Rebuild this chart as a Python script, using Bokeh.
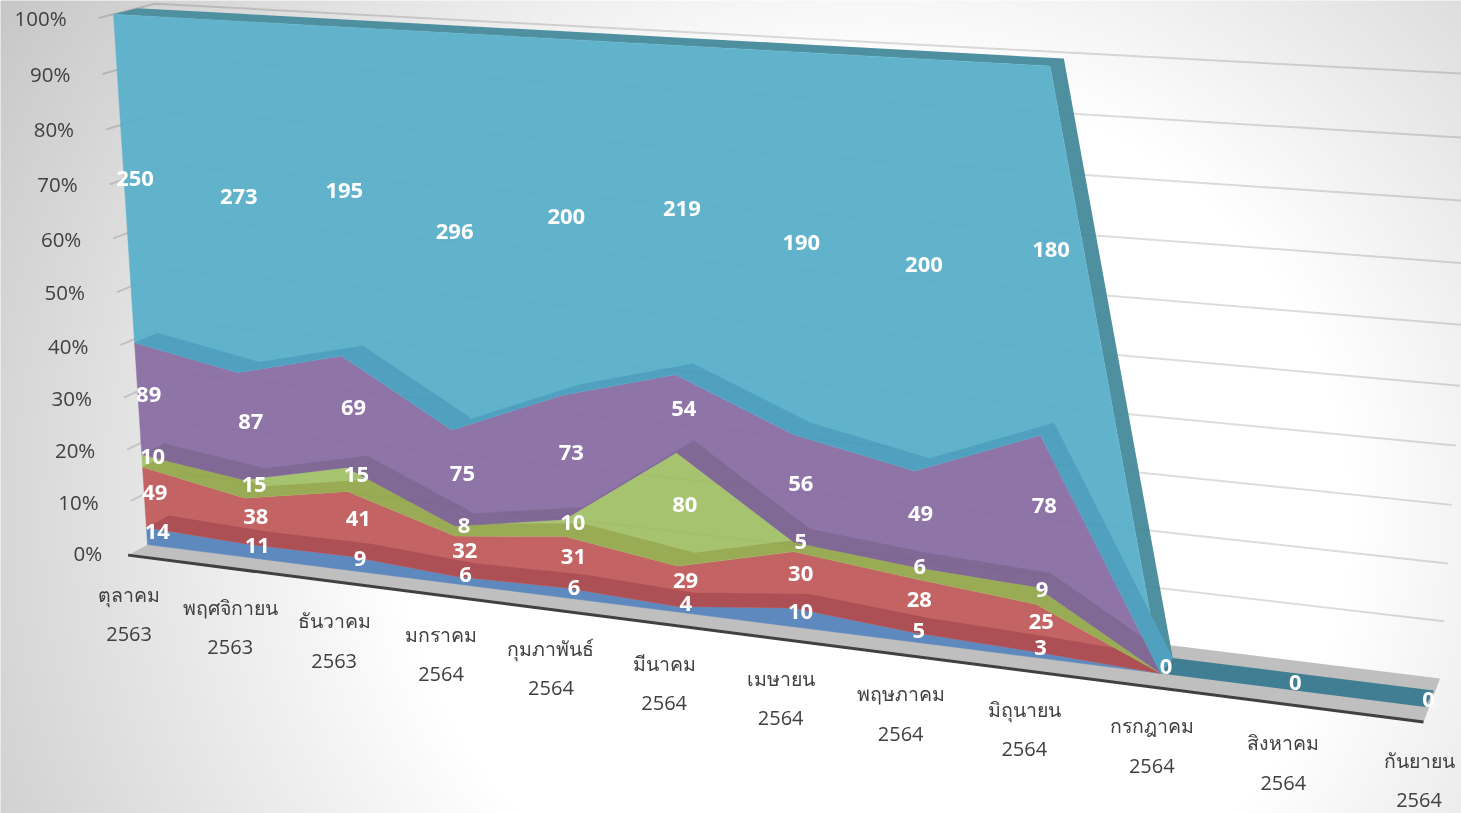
import numpy as np
from bokeh.plotting import figure
from bokeh.embed import file_html
from bokeh.resources import INLINE
from bokeh.core.properties import value

months = ["ตุลาคม", "พฤศจิกายน", "ธันวาคม", "มกราคม", "กุมภาพันธ์", "มีนาคม",
          "เมษายน", "พฤษภาคม", "มิถุนายน", "กรกฎาคม", "สิงหาคม", "กันยายน"]
years = ["2563", "2563", "2563", "2564", "2564", "2564", "2564", "2564", "2564", "2564", "2564", "2564"]
blue = [14, 11, 9, 6, 6, 4, 10, 5, 3, 0, 0, 0]
red = [49, 38, 41, 32, 31, 29, 30, 28, 25, 0, 0, 0]
green = [10, 15, 15, 8, 10, 80, 5, 6, 9, 0, 0, 0]
purple = [89, 87, 69, 75, 73, 54, 56, 49, 78, 0, 0, 0]
teal = [250, 273, 195, 296, 200, 219, 190, 200, 180, 0, 0, 0]
y_ticks = [0, 10, 20, 30, 40, 50, 60, 70, 80, 90, 100]

series = [blue, red, green, purple, teal]
face_colors = ["#5E89BF", "#C46363", "#A6C36F", "#8F74A8", "#61B3CC"]
side_colors = ["#AD5056", "#9AAB55", "#806A95", "#4FA1BF", "#4F90A0"]

# ---- perspective scale: (category, percent, depth) -> screen, fitted on the picture's box corners
CAL = [
    (0, 100, 0, 113, 14), (8, 100, 0, 1050, 65), (0, 0, 0, 147, 544), (9, 0, 0, 1162, 674),
    (11, 0, 0, 1423, 707), (0, 39.3, 0, 134, 342), (0, 3.4, 0, 146, 527), (5, 29.3, 0, 676, 452),
    (5, 8.5, 0, 677, 565), (0, 100, 1, 137, 8), (8, 100, 1, 1063, 58), (0, 39.3, 1, 157, 333),
    (0, 17.7, 1, 164, 443), (0, 3.4, 1, 168, 515), (5, 29.3, 1, 693, 440), (5, 8.5, 1, 695, 552),
    (9, 0, 1, 1172, 657), (11, 0, 1, 1434, 690),
]
A, b = [], []
for i, v, z, sx, sy in CAL:
    w = v / 100
    A.append([i, w, z, 1, 0, 0, 0, 0, -sx * i, -sx * w, -sx * z])
    b.append(sx)
    A.append([0, 0, 0, 0, i, w, z, 1, -sy * i, -sy * w, -sy * z])
    b.append(sy)
P = np.append(np.linalg.lstsq(np.array(A, float), np.array(b, float), rcond=None)[0], 1.0).reshape(3, 4)


def proj(i, v, z):
    i, v, z = np.broadcast_arrays(np.asarray(i, float), np.asarray(v, float) / 100, np.asarray(z, float))
    h = np.stack([i, v, z, np.ones_like(i)])
    q = P @ h.reshape(4, -1)
    return (q[0] / q[2]).reshape(i.shape), (q[1] / q[2]).reshape(i.shape)


Z_FLOOR_FRONT = -0.85
Z_GRID_FRONT = -0.6
Z_FLOOR_BACK = 1.75

W, H = 1461, 813
p = figure(width=W, height=H, x_range=(0, W), y_range=(H, 0), output_backend="svg",
           toolbar_location=None, min_border=0, outline_line_color=None)
p.axis.visible = False
p.grid.visible = False
p.styles = {"position": "fixed", "left": "0px", "top": "0px"}

# background
gx, gy = np.meshgrid(np.linspace(-6, W + 6, 370), np.linspace(-6, H + 6, 208))
d = np.sqrt(((gx - 875) / 479) ** 2 + ((gy - 520) / 450) ** 2)
g = np.clip(255 - 48 * np.maximum(d - 1, 0), 0, 255).astype(np.uint32)
img = (255 << 24) | (g << 16) | (g << 8) | g
p.image_rgba(image=[img.astype(np.uint32)], x=-6, y=-6, dw=W + 12, dh=H + 12)

cats = np.arange(12)

# floor
fx1, fy1 = proj(cats, 0, Z_FLOOR_FRONT)
ex1, ey1 = proj([0, 11.04], 0, Z_FLOOR_FRONT)
ex2, ey2 = proj([0, 11.0], 0, Z_FLOOR_BACK)
p.patch(np.r_[ex1, ex2[::-1]], np.r_[ey1, ey2[::-1]], fill_color="#BFBFBF", line_color=None)
p.line(ex1, ey1, line_color="#404040", line_width=3)

# gridlines
def grid_path(v):
    x0, y0 = proj(0, v, Z_GRID_FRONT)
    x1, y1 = proj(0, v, Z_FLOOR_BACK)
    x2, y2 = proj(11, v, Z_FLOOR_BACK)
    return [float(x0), float(x1), float(x2)], [float(y0), float(y1), float(y2)]

paths = [grid_path(v) for v in y_ticks[1:]]
p.multi_line([a[0] for a in paths], [a[1] for a in paths], line_color="#000000", line_alpha=0.12, line_width=2)

# stacked areas
arr = np.array(series, float)
tot = arr.sum(axis=0)
pct = np.divide(arr, tot, out=np.zeros_like(arr), where=tot > 0) * 100
top = np.cumsum(pct, axis=0)
bot = np.vstack([np.zeros(12), top[:-1]])

# top face of the highest series against the background
tx0, ty0 = proj(cats, top[4], 0)
tx1, ty1 = proj(cats, top[4], 1)
p.patch(np.r_[tx0[:10], tx1[:10][::-1]], np.r_[ty0[:10], ty1[:10][::-1]], fill_color=side_colors[4], line_color=None)
p.patch(np.r_[tx0[9:], tx1[9:][::-1]], np.r_[ty0[9:], ty1[9:][::-1]], fill_color="#3F7E93", line_color=None)

for k in range(5):
    x_t, y_t = proj(cats[:10], top[k][:10], 0)
    x_b, y_b = proj(cats[:10], bot[k][:10], 0)
    p.patch(np.r_[x_t, x_b[::-1]], np.r_[y_t, y_b[::-1]], fill_color=face_colors[k],
            line_color=face_colors[k], line_width=0.5)
    if k > 0:
        x_f, y_f = proj(cats[:10], top[k - 1][:10], 0)
        x_r, y_r = proj(cats[:10], top[k - 1][:10], 1)
        p.patch(np.r_[x_f, x_r[::-1]], np.r_[y_f, y_r[::-1]], fill_color=side_colors[k - 1], line_color=None)

# grid seen through the translucent faces
p.multi_line([a[0] for a in paths], [a[1] for a in paths], line_color="#000000", line_alpha=0.015, line_width=2)

# data labels
lx, ly, lt = [], [], []
for k in range(5):
    mid = (top[k] + bot[k]) / 2
    for i in range(9):
        a, c = proj(i, mid[i], 0.5)
        lx.append(float(a) - 1); ly.append(float(c) + 1); lt.append(str(series[k][i]))
for i in range(9, 12):
    a, c = proj(i, 0, 0.5)
    lx.append(float(a) - 1); ly.append(float(c) + 1); lt.append("0")
p.text(lx, ly, text=lt, text_color="#FFFFFF", text_font=value("Open Sans"), text_font_style="bold",
       text_font_size="22px", text_align="center", text_baseline="middle")

# y tick labels
yx, yy = proj(np.zeros(11), np.array(y_ticks, float), Z_FLOOR_FRONT)
p.text(yx - 26, yy - 2, text=[f"{v}%" for v in y_ticks], text_color="#404040", text_font=value("Open Sans"),
       text_font_size="20.5px", text_align="right", text_baseline="middle")

# category labels
p.text(fx1 + 1, fy1 + 39, text=months, text_color="#404040", text_font=value("Noto Sans"),
       text_font_size="19.5px", text_align="center", text_baseline="middle")
p.text(fx1 + 1, fy1 + 79, text=years, text_color="#404040", text_font=value("Open Sans"),
       text_font_size="20px", text_align="center", text_baseline="middle")

open("out.html", "w").write(file_html(p, INLINE))
